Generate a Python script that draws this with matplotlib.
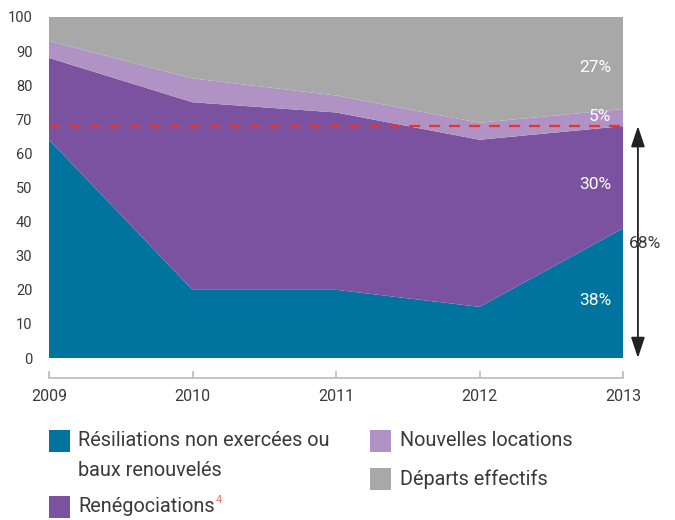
import matplotlib
matplotlib.use("Agg")
import matplotlib.pyplot as plt
from matplotlib.patches import Rectangle
import numpy as np

years = [2009, 2010, 2011, 2012, 2013]
resiliations = [64, 20, 20, 15, 38]
renegociations = [24, 55, 52, 49, 30]
nouvelles = [5, 7, 5, 5, 5]
departs = [7, 18, 23, 31, 27]
seuil = 68
y_ticks = list(range(0, 101, 10))
end_labels = ["38%", "30%", "5%", "27%"]
end_label_y = [17, 51, 70.8, 85.3]
labels = ["Résiliations non exercées ou\nbaux renouvelés", "Renégociations",
          "Nouvelles locations", "Départs effectifs"]
colors = ["#00739E", "#7B52A0", "#B192C5", "#A7A8A7"]

plt.rcParams['font.family'] = ['Roboto', 'DejaVu Sans']
plt.rcParams['font.weight'] = 'normal'
txt_col = "#3a3a3a"

fig = plt.figure(figsize=(6.75, 5.2), dpi=100)
ax = fig.add_axes([49/675, 1-358/520, (623-49)/675, (358-17)/520])

ax.stackplot(years, resiliations, renegociations, nouvelles, departs,
             colors=colors, linewidth=0)
ax.axhline(seuil, color="#E8352B", lw=1.6, dashes=(5, 4))

ax.set_xlim(years[0], years[-1])
ax.set_ylim(0, 100)
ax.set_yticks(y_ticks)
ax.set_xticks(years)
for s in ['top', 'right', 'left']:
    ax.spines[s].set_visible(False)
ax.spines['bottom'].set_position(('outward', 14.5))
ax.spines['bottom'].set_color("#BBBBBB")
ax.spines['bottom'].set_linewidth(1.2)
ax.tick_params(axis='x', direction='in', length=5, color="#BBBBBB", width=1.2,
               labelsize=11.5, labelcolor=txt_col, pad=8)
ax.tick_params(axis='y', length=0, labelsize=10.5, labelcolor=txt_col, pad=12)

for lab, yp in zip(end_labels, end_label_y):
    ax.text(2012.92, yp, lab, color="white", ha="right", va="center", fontsize=12.5)

# arrow
ax.annotate("", xy=(1.026, 0), xytext=(1.026, seuil / 100), xycoords='axes fraction',
            textcoords='axes fraction',
            arrowprops=dict(arrowstyle="<|-|>,head_length=0.9,head_width=0.3",
                            color="#222222", lw=1.3,
                            mutation_scale=14, shrinkA=0, shrinkB=0))
ax.text(1.011, 0.337, "68%", transform=ax.transAxes, ha="left", va="center",
        fontsize=12.5, color=txt_col, clip_on=False)

# legend
entries = [(49, 430, 0), (49, 496, 1), (370, 430, 2), (370, 468, 3)]
for (x, y, i) in entries:
    fig.add_artist(Rectangle((x/675, 1-(y+22)/520), 21/675, 22/520,
                             transform=fig.transFigure,
                             facecolor=colors[i], edgecolor='none'))
leg_fs = 14.3
fig.text(78/675, 1-441/520, "Résiliations non exercées ou", fontsize=leg_fs, color=txt_col, va="center")
fig.text(78/675, 1-471/520, "baux renouvelés", fontsize=leg_fs, color=txt_col, va="center")
t = fig.text(78/675, 1-507/520, "Renégociations", fontsize=leg_fs, color=txt_col, va="center")
fig.canvas.draw()
bb = t.get_window_extent()
fig.text(bb.x1/675 + 0.002, 1-500/520, "4", fontsize=8, color="#F0716A", va="center")
fig.text(400/675, 1-441/520, "Nouvelles locations", fontsize=leg_fs, color=txt_col, va="center")
fig.text(400/675, 1-479/520, "Départs effectifs", fontsize=leg_fs, color=txt_col, va="center")

fig.savefig("out.png", dpi=100)
